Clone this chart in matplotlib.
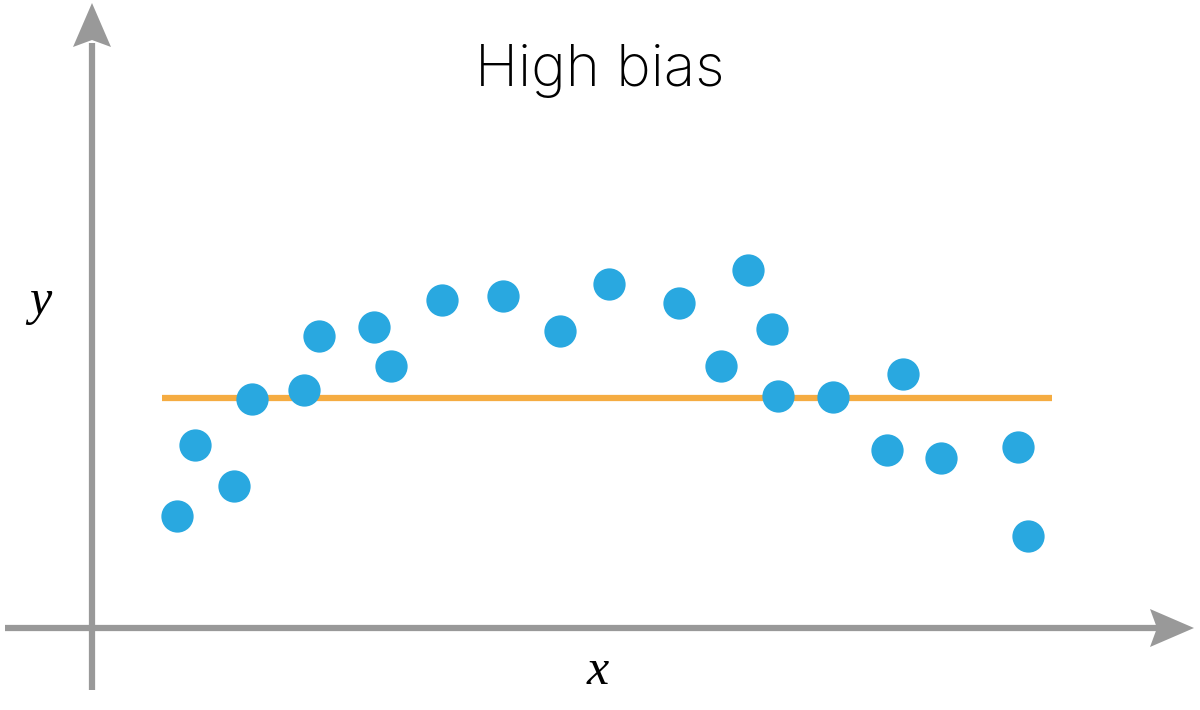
import matplotlib
matplotlib.use("Agg")
import matplotlib.pyplot as plt
from matplotlib.patches import Polygon

# data (x, y) in chart units
x_pts = [0.85, 1.03, 1.42, 1.60, 2.12, 2.27, 2.82, 2.99, 3.50, 4.11, 4.68, 5.17,
         5.87, 6.29, 6.56, 6.80, 6.86, 7.41, 7.95, 8.11, 8.49, 9.26, 9.36]
y_pts = [1.12, 1.83, 1.42, 2.29, 2.38, 2.92, 3.01, 2.62, 3.28, 3.32, 2.97, 3.44,
         3.25, 2.62, 3.58, 2.99, 2.32, 2.31, 1.78, 2.54, 1.70, 1.81, 0.92]
fit_x = [0.70, 9.60]
fit_y = [2.30, 2.30]

title = "High bias"

W, H = 1200, 710
fig = plt.figure(figsize=(W / 100, H / 100), dpi=100)
ax = fig.add_axes([0, 0, 1, 1])
ax.set_xlim(-0.92, 11.08)
ax.set_ylim(-0.82, 6.28)
ax.axis("off")

gray = "#999999"
# axes lines
ax.plot([-0.87, 10.65], [0, 0], color=gray, lw=4.5, solid_capstyle="butt", zorder=1)
ax.plot([0, 0], [-0.62, 5.85], color=gray, lw=4.5, solid_capstyle="butt", zorder=1)
# arrowheads (notched)
ax.add_patch(Polygon([[11.02, 0], [10.58, 0.19], [10.65, 0], [10.58, -0.19]],
                     closed=True, color=gray, lw=0, zorder=1))
ax.add_patch(Polygon([[0, 6.25], [-0.19, 5.81], [0, 5.88], [0.19, 5.81]],
                     closed=True, color=gray, lw=0, zorder=1))

ax.plot(fit_x, fit_y, color="#F5AC42", lw=4.5, solid_capstyle="butt", zorder=2)
ax.scatter(x_pts, y_pts, s=540, color="#29A8E0", linewidths=0, zorder=3)

fig.text(0.5, 1 - 86 / H, title, ha="center", va="baseline",
         fontsize=42, family="Inter", fontweight="light", color="#000000")
fig.text(40 / W, 1 - 302 / H, "y", ha="center", va="center",
         fontsize=36, family="Liberation Serif", style="italic")
fig.text(598 / W, 1 - 672 / H, "x", ha="center", va="center",
         fontsize=36, family="Liberation Serif", style="italic")

fig.savefig("out.png", dpi=100)
